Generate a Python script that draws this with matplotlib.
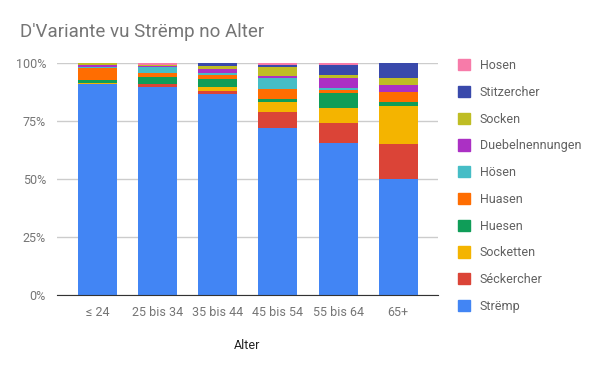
import numpy as np
import matplotlib
matplotlib.use('Agg')
import matplotlib.pyplot as plt
from matplotlib.ticker import PercentFormatter
from matplotlib.patches import Patch

plt.rcParams['font.family'] = ['Roboto', 'DejaVu Sans']

# Altersgruppen
alter = ['≤ 24', '25 bis 34', '35 bis 44', '45 bis 54', '55 bis 64', '65+']

# Anteile (%) pro Variante, von unten nach oben
stremp      = [91.1, 89.7, 86.8, 72.0, 65.5, 50.0]
seckercher  = [0.0, 1.4, 1.1, 6.9, 8.6, 15.1]
socketten   = [0.4, 0.0, 1.8, 4.3, 6.5, 16.4]
huesen      = [1.2, 2.9, 3.4, 1.4, 6.6, 1.7]
huasen      = [5.1, 1.6, 1.7, 4.3, 1.2, 4.4]
hosen_oe    = [0.6, 2.5, 1.0, 4.8, 1.0, 0.0]
duebel      = [0.7, 0.5, 1.6, 0.9, 4.1, 3.0]
socken      = [0.9, 0.5, 1.4, 3.6, 1.5, 3.1]
stitzercher = [0.0, 0.0, 1.2, 0.8, 4.1, 6.3]
hosen       = [0.0, 0.9, 0.0, 1.2, 0.9, 0.0]

serien = [
    ('Strëmp', stremp, '#4285F4'),
    ('Séckercher', seckercher, '#DB4437'),
    ('Socketten', socketten, '#F4B400'),
    ('Huesen', huesen, '#0F9D58'),
    ('Huasen', huasen, '#FF6D01'),
    ('Hösen', hosen_oe, '#46BDC6'),
    ('Duebelnennungen', duebel, '#AB30C4'),
    ('Socken', socken, '#BFBD24'),
    ('Stitzercher', stitzercher, '#3949AB'),
    ('Hosen', hosen, '#F77BA9'),
]

fig = plt.figure(figsize=(6, 3.71), dpi=100)
ax = fig.add_axes([0.095, 0.205, 0.635, 0.625])

x = np.arange(len(alter))
bottom = np.zeros(len(alter))
for name, vals, col in serien:
    vals = np.array(vals)
    ax.bar(x, vals, bottom=bottom, width=0.65, color=col, zorder=3)
    bottom += vals

ax.set_xlim(-0.67, 5.66)
ax.set_ylim(0, 100)
ax.set_yticks([0, 25, 50, 75, 100])
ax.yaxis.set_major_formatter(PercentFormatter(decimals=0))
ax.grid(axis='y', color='#cccccc', linewidth=1, zorder=0)
for s in ['top', 'right', 'left']:
    ax.spines[s].set_visible(False)
ax.spines['bottom'].set_color('#333333')
ax.spines['bottom'].set_zorder(4)
ax.tick_params(axis='both', length=0, labelsize=9, colors='#757575', pad=8)
ax.set_xticks(x)
ax.set_xticklabels(alter)
ax.set_xlabel('Alter', fontsize=9, color='#222222', labelpad=14.5)

fig.text(0.033, 0.913, "D'Variante vu Strëmp no Alter", fontsize=13.5,
         color='#757575', va='center', ha='left')

handles = [Patch(facecolor=c, edgecolor=c, label=n) for n, v, c in reversed(serien)]
leg = ax.legend(handles=handles, loc='upper left', bbox_to_anchor=(1.022, 1.066),
                frameon=False, handlelength=1.0, handleheight=1.0,
                handletextpad=0.75, labelspacing=1.1, fontsize=9)
for t in leg.get_texts():
    t.set_color('#616161')

fig.savefig('out.png', dpi=100)
